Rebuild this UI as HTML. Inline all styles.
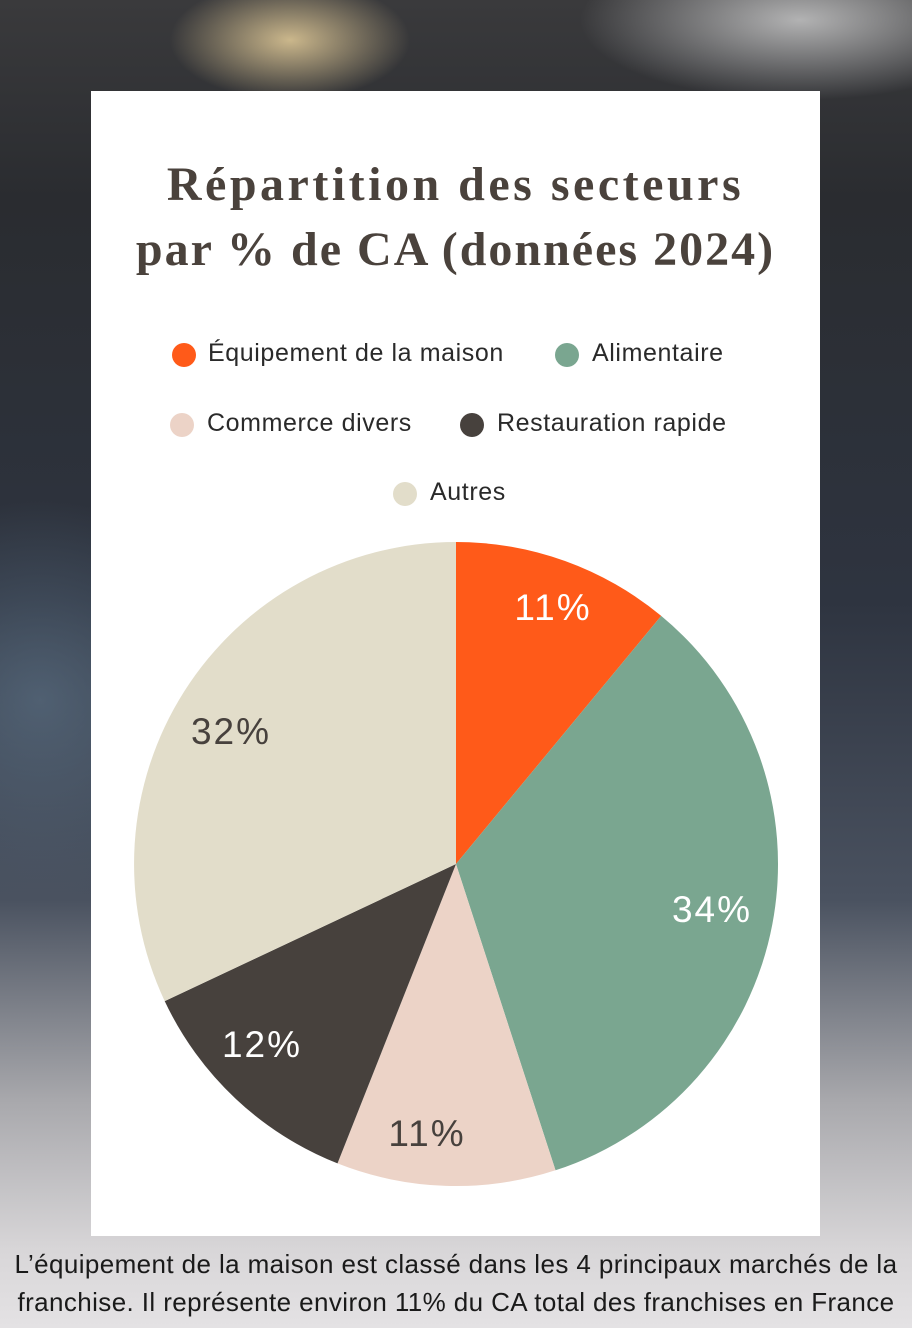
<!DOCTYPE html>
<html><head><meta charset="utf-8"><style>
html,body{margin:0;padding:0}
body{width:912px;height:1328px;position:relative;overflow:hidden;font-family:"Liberation Sans",sans-serif;
background:
radial-gradient(ellipse 120px 60px at 290px 40px, rgba(240,215,160,0.8), transparent),
radial-gradient(ellipse 220px 80px at 800px 20px, rgba(230,230,230,0.7), transparent),
radial-gradient(ellipse 200px 200px at 40px 700px, rgba(90,110,130,0.7), transparent),
linear-gradient(to bottom, #3a3a3c 0px, #2a2c30 200px, #2e3440 600px, #4a5260 900px, #a8a8ac 1100px, #d8d6d8 1250px, #e4e2e4 1328px);}
.card{position:absolute;left:91px;top:91px;width:729px;height:1145px;background:#fff}
.title{position:absolute;left:51px;width:809px;text-align:center;font-family:"Liberation Serif",serif;font-weight:bold;font-size:48px;color:#4a423c;line-height:65px;top:152px;white-space:nowrap}
.leg{position:absolute;font-size:25px;letter-spacing:0.6px;color:#2a2a2a;white-space:nowrap}
.dot{position:absolute;width:24px;height:24px;border-radius:50%}
.cap{position:absolute;left:0;width:912px;text-align:center;font-size:26px;letter-spacing:0.4px;color:#1a1a1a;line-height:38px;top:1245px;white-space:nowrap}
</style></head><body>
<div class="card"></div>
<div class="title"><span style="letter-spacing:3.5px">Répartition des secteurs</span><br><span style="letter-spacing:2px">par % de CA (données 2024)</span></div>
<div class="dot" style="left:172px;top:343px;background:#ff5a19"></div><div class="leg" style="left:208px;top:339px">Équipement de la maison</div>
<div class="dot" style="left:555px;top:343px;background:#7aa690"></div><div class="leg" style="left:592px;top:339px">Alimentaire</div>
<div class="dot" style="left:170px;top:413px;background:#ecd3c7"></div><div class="leg" style="left:207px;top:409px">Commerce divers</div>
<div class="dot" style="left:460px;top:413px;background:#47413d"></div><div class="leg" style="left:497px;top:409px">Restauration rapide</div>
<div class="dot" style="left:393px;top:482px;background:#e2ddca"></div><div class="leg" style="left:430px;top:478px">Autres</div>
<svg style="position:absolute;left:0;top:0" width="912" height="1328">
<g font-family="Liberation Sans, sans-serif" font-size="37" letter-spacing="2">
<path d="M456,864 L456,542 A322,322 0 0 1 661.2,615.9 Z" fill="#ff5a19"/>
<path d="M456,864 L661.2,615.9 A322,322 0 0 1 555.5,1170.3 Z" fill="#7aa690"/>
<path d="M456,864 L555.5,1170.3 A322,322 0 0 1 337.5,1163.4 Z" fill="#ecd3c7"/>
<path d="M456,864 L337.5,1163.4 A322,322 0 0 1 164.7,1001.1 Z" fill="#47413d"/>
<path d="M456,864 L164.7,1001.1 A322,322 0 0 1 456,542 Z" fill="#e2ddca"/>
<text x="553" y="620" fill="#fff" text-anchor="middle">11%</text>
<text x="712" y="922" fill="#fff" text-anchor="middle">34%</text>
<text x="427" y="1146" fill="#47413d" text-anchor="middle">11%</text>
<text x="262" y="1057" fill="#fff" text-anchor="middle">12%</text>
<text x="231" y="744" fill="#47413d" text-anchor="middle">32%</text>
</g></svg>
<div class="cap">L’équipement de la maison est classé dans les 4 principaux marchés de la<br>franchise. Il représente environ 11% du CA total des franchises en France</div>
</body></html>
